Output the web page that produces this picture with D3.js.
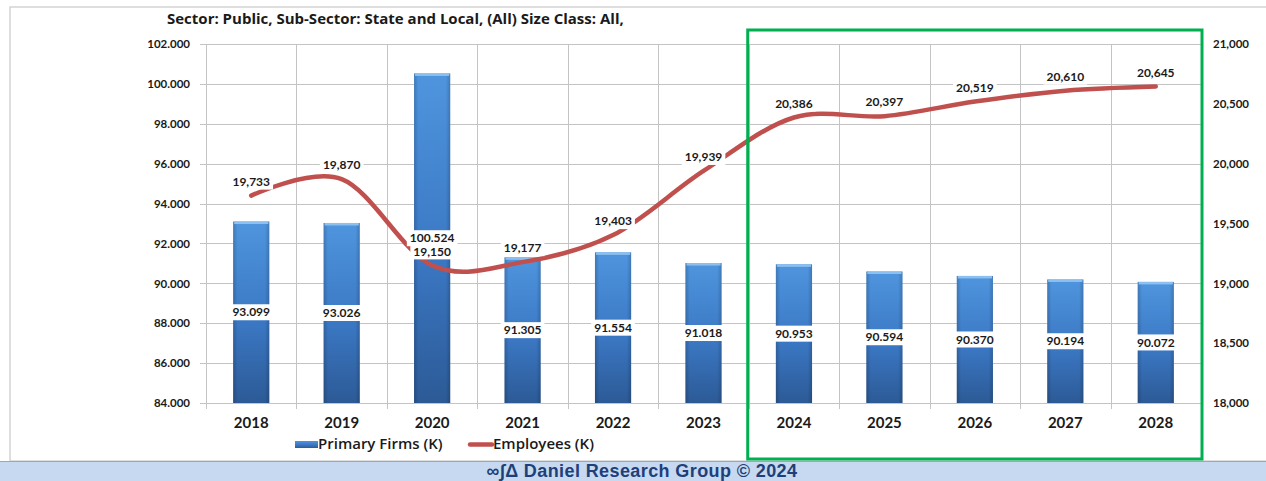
<!DOCTYPE html>
<html>
<head>
<meta charset="utf-8">
<script src="https://cdn.jsdelivr.net/npm/d3@7"></script>
<style>
  body { margin: 0; background: #fff; }
  svg { display: block; font-family: Lato, "Open Sans", sans-serif; }
</style>
</head>
<body>
<div class="container"></div>
<script>
// data
const years = ["2018", "2019", "2020", "2021", "2022", "2023", "2024", "2025", "2026", "2027", "2028"]
const firms = [93.099, 93.026, 100.524, 91.305, 91.554, 91.018, 90.953, 90.594, 90.370, 90.194, 90.072]
const employees = [19733, 19870, 19150, 19177, 19403, 19939, 20386, 20397, 20519, 20610, 20645]
const leftTicks = [84, 86, 88, 90, 92, 94, 96, 98, 100, 102]
const rightTicks = [18000, 18500, 19000, 19500, 20000, 20500, 21000]
const forecastYears = ["2024", "2025", "2026", "2027", "2028"]

const title = "Sector: Public, Sub-Sector: State and Local, (All) Size Class: All,"
const footer = "∞∫Δ Daniel Research Group © 2024"

const W = 1266, H = 481
const plot = {left: 206, right: 1201, top: 44, bottom: 403}

const svg = d3.select(".container")
    .append("svg")
    .attr("width", W)
    .attr("height", H)

// gradients
const defs = svg.append("defs")
const grad = defs.append("linearGradient")
    .attr("id", "barGrad")
    .attr("x1", 0).attr("y1", 0).attr("x2", 0).attr("y2", 1)
grad.append("stop").attr("offset", "0%").attr("stop-color", "#4f95de")
grad.append("stop").attr("offset", "55%").attr("stop-color", "#3b78c4")
grad.append("stop").attr("offset", "100%").attr("stop-color", "#2c5a96")

const side = defs.append("linearGradient")
    .attr("id", "barSide")
    .attr("x1", 0).attr("y1", 0).attr("x2", 1).attr("y2", 0)
side.append("stop").attr("offset", "0%").attr("stop-color", "#000").attr("stop-opacity", 0.18)
side.append("stop").attr("offset", "12%").attr("stop-color", "#000").attr("stop-opacity", 0)
side.append("stop").attr("offset", "88%").attr("stop-color", "#000").attr("stop-opacity", 0)
side.append("stop").attr("offset", "100%").attr("stop-color", "#000").attr("stop-opacity", 0.18)

// outer frame and footer band
svg.append("rect")
    .attr("x", 10).attr("y", 7)
    .attr("width", W + 20).attr("height", 454)
    .attr("fill", "none")
    .attr("stroke", "#d4d4d4")
    .attr("stroke-width", 1.5)

svg.append("rect")
    .attr("x", 0).attr("y", 462)
    .attr("width", W).attr("height", H - 462)
    .attr("fill", "#c6d9f0")
svg.append("line")
    .attr("x1", 0).attr("x2", W)
    .attr("y1", 461.5).attr("y2", 461.5)
    .attr("stroke", "#a6a6a6")

svg.append("text")
    .text(footer)
    .attr("x", 642)
    .attr("y", 477)
    .attr("text-anchor", "middle")
    .attr("font-family", "Liberation Sans, Arial, sans-serif")
    .attr("font-weight", "bold")
    .attr("font-size", 18)
    .attr("letter-spacing", 0.4)
    .attr("fill", "#1f3f7a")

// title
svg.append("text")
    .text(title)
    .attr("x", 167)
    .attr("y", 24)
    .attr("font-family", "Open Sans, sans-serif")
    .attr("font-size", 15)
    .attr("font-weight", "bold")
    .attr("fill", "#1a1a1a")

// Scales
const xScale = d3.scaleBand()
    .domain(years)
    .range([plot.left, plot.right])
    .paddingInner(0.6)
    .paddingOuter(0.3)

const step = xScale.step()
const boundary = i => plot.left + i * step

const yLeft = d3.scaleLinear()
    .domain([84, 102])
    .range([plot.bottom, plot.top])

const yRight = d3.scaleLinear()
    .domain([18000, 21000])
    .range([plot.bottom, plot.top])

// Grid lines
svg.append("g")
    .selectAll("line")
    .data(leftTicks)
    .join("line")
    .attr("x1", plot.left - 6)
    .attr("x2", plot.right)
    .attr("y1", d => Math.round(yLeft(d)) + 0.5)
    .attr("y2", d => Math.round(yLeft(d)) + 0.5)
    .attr("stroke", "#c4c4c4")

svg.append("g")
    .selectAll("line")
    .data(d3.range(years.length + 1))
    .join("line")
    .attr("x1", i => Math.round(boundary(i)) + 0.5)
    .attr("x2", i => Math.round(boundary(i)) + 0.5)
    .attr("y1", plot.top)
    .attr("y2", plot.bottom + 6)
    .attr("stroke", "#c4c4c4")

// Axes
const yAxisLeft = d3.axisLeft(yLeft)
    .tickValues(leftTicks)
    .tickSize(0)
    .tickPadding(16)
    .tickFormat(d3.format(".3f"))

svg.append("g")
    .attr("transform", `translate(${plot.left}, 0)`)
    .call(yAxisLeft)
    .call(g => g.select(".domain").remove())
    .call(g => g.selectAll("text")
        .attr("font-family", "Lato, sans-serif")
        .attr("font-size", 11.5)
        .attr("font-weight", "bold")
        .attr("fill", "#1a1a1a"))

const yAxisRight = d3.axisRight(yRight)
    .tickValues(rightTicks)
    .tickSize(0)
    .tickPadding(12)
    .tickFormat(d3.format(","))

svg.append("g")
    .attr("transform", `translate(${plot.right}, 0)`)
    .call(yAxisRight)
    .call(g => g.select(".domain").remove())
    .call(g => g.selectAll("text")
        .attr("font-family", "Lato, sans-serif")
        .attr("font-size", 11.5)
        .attr("font-weight", "bold")
        .attr("fill", "#1a1a1a"))

const xAxis = d3.axisBottom(xScale)
    .tickSize(0)
    .tickPadding(14)

svg.append("g")
    .attr("transform", `translate(0, ${plot.bottom})`)
    .call(xAxis)
    .call(g => g.select(".domain").remove())
    .call(g => g.selectAll("text")
        .attr("font-family", "Lato, sans-serif")
        .attr("font-size", 15)
        .attr("font-weight", "bold")
        .attr("fill", "#1a1a1a"))

// Bars
const bars = svg.append("g")
    .selectAll("g")
    .data(years.map((y, i) => ({year: y, value: firms[i]})))
    .join("g")

bars.append("rect")
    .attr("x", d => xScale(d.year))
    .attr("y", d => yLeft(d.value))
    .attr("width", xScale.bandwidth())
    .attr("height", d => plot.bottom - yLeft(d.value))
    .attr("fill", "url(#barGrad)")
bars.append("rect")
    .attr("x", d => xScale(d.year))
    .attr("y", d => yLeft(d.value))
    .attr("width", xScale.bandwidth())
    .attr("height", d => plot.bottom - yLeft(d.value))
    .attr("fill", "url(#barSide)")
bars.append("rect")
    .attr("x", d => xScale(d.year) + 1)
    .attr("y", d => yLeft(d.value))
    .attr("width", xScale.bandwidth() - 2)
    .attr("height", 2.5)
    .attr("fill", "#8cc0f0")

// Line
const line = d3.line()
    .x(d => xScale(d.year) + xScale.bandwidth() / 2)
    .y(d => yRight(d.value))
    .curve(d3.curveCatmullRom.alpha(0))

const lineData = years.map((y, i) => ({year: y, value: employees[i]}))

svg.append("path")
    .datum(lineData)
    .attr("d", line)
    .attr("fill", "none")
    .attr("stroke", "#c0504d")
    .attr("stroke-width", 4.5)
    .attr("stroke-linecap", "round")

// Labels with white boxes
function boxed(g, x, y, text, size) {
    const t = g.append("text")
        .text(text)
        .attr("x", x)
        .attr("y", y)
        .attr("dy", "0.35em")
        .attr("text-anchor", "middle")
        .attr("font-family", "Lato, sans-serif")
        .attr("font-size", size)
        .attr("font-weight", "bold")
        .attr("fill", "#1a1a1a")
    const b = t.node().getBBox()
    g.insert("rect", "text")
        .attr("x", b.x - 3)
        .attr("y", y - 8)
        .attr("width", b.width + 6)
        .attr("height", 16)
        .attr("fill", "#fff")
}

const barLabels = svg.append("g")
years.forEach((y, i) => {
    const g = barLabels.append("g")
    const top = yLeft(firms[i])
    boxed(g, xScale(y) + xScale.bandwidth() / 2, (top + plot.bottom) / 2, d3.format(".3f")(firms[i]), 12)
})

const lineLabels = svg.append("g")
years.forEach((y, i) => {
    const g = lineLabels.append("g")
    boxed(g, xScale(y) + xScale.bandwidth() / 2, yRight(employees[i]) - 14, d3.format(",")(employees[i]), 12)
})

// Legend
const legend = svg.append("g")
    .attr("font-family", "Open Sans, sans-serif")
legend.append("rect")
    .attr("x", 295).attr("y", 441)
    .attr("width", 23).attr("height", 7)
    .attr("fill", "url(#barGrad)")
legend.append("text")
    .text("Primary Firms (K)")
    .attr("x", 318).attr("y", 449)
    .attr("font-size", 15)
    .attr("font-weight", 600)
    .attr("fill", "#1a1a1a")
legend.append("line")
    .attr("x1", 470).attr("x2", 492)
    .attr("y1", 444.5).attr("y2", 444.5)
    .attr("stroke", "#c0504d")
    .attr("stroke-width", 4.5)
    .attr("stroke-linecap", "round")
legend.append("text")
    .text("Employees (K)")
    .attr("x", 493).attr("y", 449)
    .attr("font-size", 15)
    .attr("font-weight", 600)
    .attr("fill", "#1a1a1a")

// Forecast highlight box
const i0 = years.indexOf(forecastYears[0])
const i1 = years.indexOf(forecastYears[forecastYears.length - 1]) + 1
svg.append("rect")
    .attr("x", boundary(i0) - 1)
    .attr("y", 30)
    .attr("width", boundary(i1) - boundary(i0) + 2)
    .attr("height", 429)
    .attr("fill", "none")
    .attr("stroke", "#00b050")
    .attr("stroke-width", 3)
</script>
</body>
</html>
